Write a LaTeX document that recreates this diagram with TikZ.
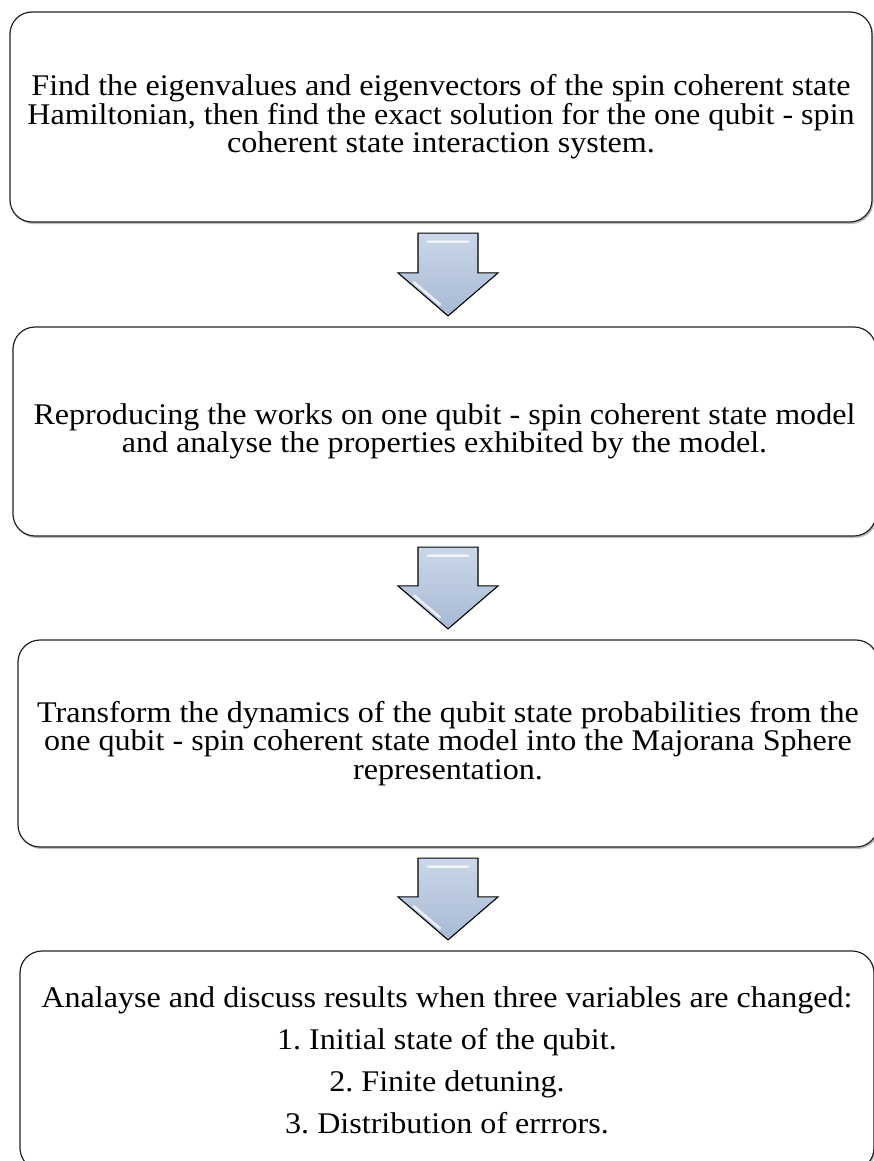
\documentclass[tikz,border=0pt]{standalone}
\usepackage{fontspec}
\setmainfont{Liberation Serif}[FakeStretch=1.07]
\usetikzlibrary{calc}
\usetikzlibrary{shadows}
\usetikzlibrary{positioning}

\definecolor{arrowtop}{HTML}{CBD7E9}
\definecolor{arrowbot}{HTML}{A7B9D4}
\definecolor{boxline}{HTML}{222222}

% block arrow from the bottom of one box to the top of the next
\newcommand{\flowarrow}[2]{%
    \draw [arrowbody] let \p1 = (#1.south), \p2 = (#2.north) in
        (418pt, \y1-10.5pt) -- (478pt, \y1-10.5pt) -- (478pt, \y2+53.5pt)
        -- (498pt, \y2+53.5pt) -- (448pt, \y2+10.5pt) -- (398pt, \y2+53.5pt)
        -- (418pt, \y2+53.5pt) -- cycle;
    \draw [arrowshine] let \p1 = (#1.south), \p2 = (#2.north) in
        (428pt, \y1-19pt) -- (468pt, \y1-19pt)
        (414pt, \y2+44pt) -- (440pt, \y2+22pt);
}

\begin{document}
\frenchspacing
\begin{tikzpicture}[x=1pt, y=-1pt]
    \tikzset{
        stagebox/.style={draw=boxline, line width=1.2pt, rounded corners=22pt,
            fill=white, align=center, inner sep=0pt,
            font=\fontsize{30}{28.5}\selectfont,
            drop shadow={shadow xshift=1.5pt, shadow yshift=-2pt, opacity=.25, fill=black}},
        arrowbody/.style={draw=black, line width=1.1pt, line join=miter,
            top color=arrowtop, bottom color=arrowbot},
        arrowshine/.style={white, line width=2.5pt, opacity=.75, line cap=round}
    }

    % Page
    \useasboundingbox (0,0) rectangle (874,1161);

    % Stages
    \node [stagebox, minimum width=862pt, minimum height=210pt] (find) at (441,117)
        {Find the eigenvalues and eigenvectors of the spin coherent state\\
         Hamiltonian, then find the exact solution for the one qubit - spin\\
         coherent state interaction system.};

    \node [stagebox, minimum width=863pt, minimum height=209pt] (reproduce) at (444.5,431.5)
        {Reproducing the works on one qubit - spin coherent state model\\
         and analyse the properties exhibited by the model.};

    \node [stagebox, minimum width=860pt, minimum height=207pt] (transform) at (448,743.5)
        {Transform the dynamics of the qubit state probabilities from the\\
         one qubit - spin coherent state model into the Majorana Sphere\\
         representation.};

    \node [stagebox, minimum width=854pt, minimum height=219pt] (analyse) at (447,1060.5)
        {Analayse and discuss results when three variables are changed:\\[13.5pt]
         1. Initial state of the qubit.\\[13.5pt]
         2. Finite detuning.\\[13.5pt]
         3. Distribution of errrors.};

    % Arrows
    \flowarrow{find}{reproduce}
    \flowarrow{reproduce}{transform}
    \flowarrow{transform}{analyse}

\end{tikzpicture}
\end{document}
